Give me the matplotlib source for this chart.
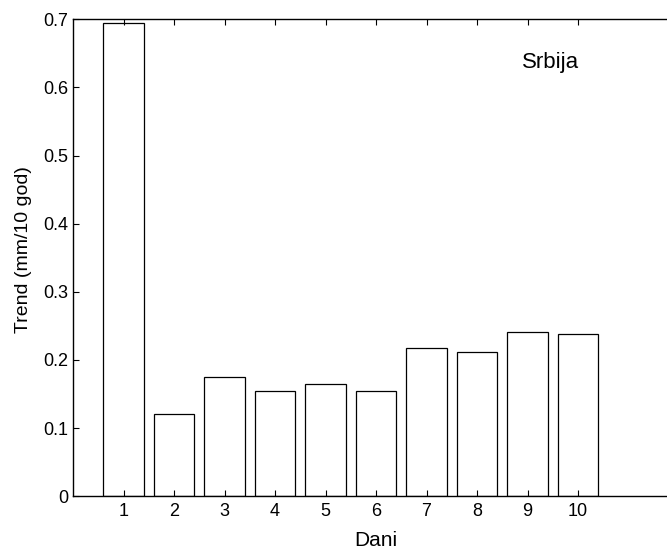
import matplotlib.pyplot as plt
import numpy as np

plt.rcParams['font.family'] = ['Liberation Sans', 'DejaVu Sans']

# podaci
dani = [1, 2, 3, 4, 5, 6, 7, 8, 9, 10]
trend = [0.694, 0.121, 0.175, 0.154, 0.165, 0.154, 0.218, 0.212, 0.241, 0.238]
y_ticks = [0, 0.1, 0.2, 0.3, 0.4, 0.5, 0.6, 0.7]

fig = plt.figure(figsize=(6.67, 5.49), dpi=100)
# desna ivica osa izlazi van slike (kao u originalu)
ax = fig.add_axes([0.1095, 0.0960, 0.9085, 0.8690])

ax.bar(dani, trend, width=0.8, color='white', edgecolor='black', linewidth=0.9)

ax.set_xlim(0, 12)
ax.set_ylim(0, 0.7)
ax.set_xticks(dani)
ax.set_yticks(y_ticks)
ax.set_yticklabels(['0', '0.1', '0.2', '0.3', '0.4', '0.5', '0.6', '0.7'])
ax.tick_params(direction='in', top=True, right=True, length=4, width=0.8,
               labelsize=13)
ax.tick_params(axis='x', pad=5)
ax.tick_params(axis='y', pad=3.5)
for s in ax.spines.values():
    s.set_linewidth(1.0)

ax.set_xlabel('Dani', fontsize=15, labelpad=8)
ax.set_ylabel('Trend (mm/10 god)', fontsize=14)
ax.yaxis.set_label_coords(-0.068, 0.517)
ax.text(8.9, 0.637, 'Srbija', fontsize=16, ha='left', va='center')

fig.savefig('out.png', dpi=100)
